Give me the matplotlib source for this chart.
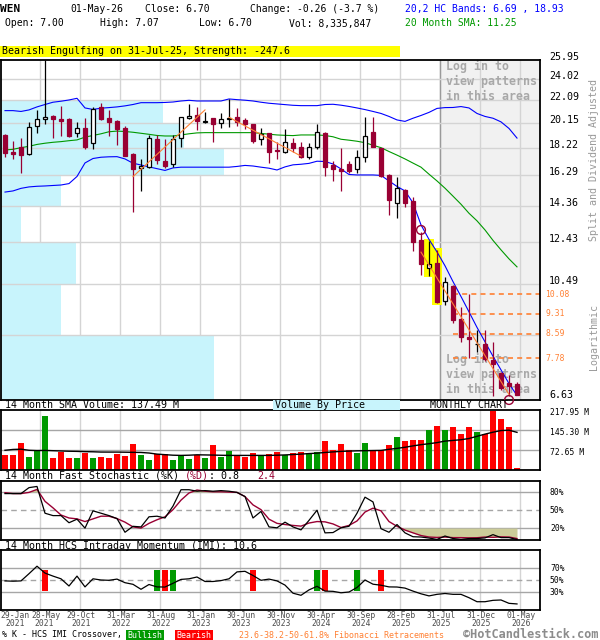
import numpy as np
import matplotlib
matplotlib.use("Agg")
import matplotlib.pyplot as plt
import matplotlib.transforms as mtransforms
from matplotlib.patches import Rectangle

# ------------------------------------------------------------------ data
# monthly candles, Jan-2021 (index 0) .. May-2026 (index 64)
opens = [19.17, 17.92, 18.24, 17.75, 19.90, 20.43, 20.70, 20.45, 20.45, 19.30,
         19.70, 18.54, 21.45, 20.51, 20.29, 19.70, 17.75, 16.75, 16.86, 18.87,
         17.26, 17.05, 18.92, 20.51, 20.78, 20.18, 20.51, 20.15, 20.43, 20.59,
         20.37, 20.04, 18.85, 19.30, 18.04, 17.88, 18.54, 18.24, 17.56, 18.29,
         19.35, 16.98, 16.73, 17.05, 16.69, 17.56, 19.43, 18.16, 16.31, 14.58,
         15.35, 14.70, 12.54, 11.19, 11.45, 9.81, 10.42, 9.12, 8.49, 8.23,
         8.24, 7.73, 7.34, 7.05, 7.00]
highs = [19.25, 18.71, 18.92, 20.18, 21.21, 25.90, 20.78, 21.56, 20.50, 20.21,
         20.51, 21.50, 21.84, 21.21, 20.35, 19.88, 17.85, 17.38, 19.17, 19.17,
         18.87, 19.17, 20.62, 21.73, 21.50, 21.01, 20.55, 20.98, 22.14, 21.36,
         20.51, 20.06, 19.70, 19.32, 18.66, 19.62, 18.92, 18.66, 18.58, 20.01,
         19.40, 17.28, 18.16, 17.28, 18.04, 20.59, 20.59, 18.20, 16.35, 16.20,
         15.38, 14.90, 12.97, 12.50, 12.05, 10.80, 10.44, 9.57, 10.08, 8.72,
         8.70, 8.29, 7.36, 7.27, 7.07]
lows = [17.56, 17.40, 16.46, 17.68, 19.35, 20.04, 18.92, 19.09, 19.05, 19.00,
        18.09, 18.09, 20.40, 19.09, 18.41, 17.60, 14.06, 15.31, 16.80, 17.05,
        16.75, 16.82, 18.24, 20.43, 19.56, 20.10, 18.66, 19.70, 19.83, 19.88,
        19.62, 18.54, 18.41, 17.14, 17.40, 17.85, 17.92, 17.45, 17.40, 18.09,
        16.24, 15.94, 15.31, 16.42, 16.42, 17.21, 18.24, 16.20, 13.88, 13.69,
        14.35, 12.00, 10.89, 10.85, 9.72, 9.65, 8.97, 8.29, 7.79, 7.96,
        7.68, 6.68, 6.85, 6.67, 6.70]
closes = [17.80, 17.75, 17.68, 19.78, 20.43, 20.59, 20.43, 20.29, 19.09, 19.70,
          18.24, 21.27, 20.45, 20.21, 19.64, 17.63, 16.71, 16.93, 18.92, 17.33,
          16.91, 18.87, 20.59, 20.70, 20.31, 20.29, 20.04, 20.43, 20.53, 20.21,
          20.04, 18.69, 19.25, 17.92, 17.97, 18.66, 18.21, 17.56, 18.24, 19.40,
          16.86, 16.69, 16.59, 16.59, 17.52, 19.09, 18.29, 16.24, 14.74, 15.49,
          14.58, 12.46, 11.37, 11.38, 9.77, 10.58, 9.08, 8.49, 8.40, 8.24,
          7.75, 7.60, 6.89, 6.96, 6.70]
volume_m = [54.5, 54.5, 98, 47, 68, 196, 43.6, 66.5, 43.6, 43.6,
            61.7, 43.6, 46, 43.6, 58, 51, 94.4, 54.5, 36.3, 57,
            57, 36.3, 52, 40, 53.3, 43.6, 90.8, 47, 69, 55.7,
            47, 61.7, 53.3, 58, 65.4, 53.3, 61.7, 65.4, 60.5, 66.6,
            105.4, 72.7, 94.4, 72.7, 61.7, 98, 72.7, 72.7, 90.8, 120,
            105.4, 109, 109, 145.3, 160, 145.3, 156, 130.8, 156, 138,
            130.8, 214, 185, 156, 8.34]
volume_sma_m = [72, 75, 76, 72, 71, 71.5, 70.5, 69.5, 68.5, 68,
                67, 66.5, 65.5, 65.4, 65.4, 65, 64.5, 64, 62, 58,
                56, 54, 53.3, 54, 55.5, 55, 54.5, 53.8, 53.3, 53.3,
                53.3, 53.3, 53.3, 53.3, 54, 55, 56.5, 58, 60, 61.5,
                64, 66, 68, 69, 70, 70.5, 71, 71.5, 75.5, 79,
                83, 88, 92.5, 96, 100, 105.5, 108, 110.5, 115, 123,
                131, 138, 144, 145.3, 137.49]
hc_upper = [21.15, 21.15, 21.08, 21.21, 21.47, 21.68, 21.88, 21.97, 22.08, 22.23,
            21.38, 21.25, 21.36, 21.41, 21.47, 21.56, 21.68, 21.84, 21.84, 21.84,
            21.86, 21.90, 21.99, 22.05, 21.99, 21.99, 21.99, 21.99, 22.17, 22.11,
            22.06, 21.99, 21.88, 21.79, 21.73, 21.67, 21.61, 21.58, 21.58, 21.58,
            21.68, 21.70, 21.62, 21.51, 21.38, 21.24, 21.08, 20.91, 20.66, 20.37,
            20.25, 20.51, 20.74, 21.00, 21.34, 21.41, 21.42, 21.50, 21.38, 20.91,
            20.66, 20.51, 20.21, 19.68, 18.93]
hc_lower = [15.22, 15.29, 15.45, 15.54, 15.58, 15.60, 15.63, 15.66, 15.75, 16.21,
            17.12, 17.43, 17.52, 17.55, 17.56, 17.40, 17.10, 16.98, 16.85, 16.73,
            16.61, 16.78, 16.83, 16.83, 16.83, 16.83, 16.83, 16.83, 16.83, 16.88,
            16.95, 16.91, 16.83, 16.76, 16.64, 16.85, 16.99, 17.03, 17.09, 17.24,
            17.22, 17.05, 16.71, 16.34, 16.31, 16.31, 16.31, 16.28, 15.92, 15.57,
            15.29, 14.57, 13.33, 12.57, 11.95, 11.30, 10.60, 9.98, 9.38, 8.81,
            8.31, 7.84, 7.42, 7.02, 6.69]
sma20 = [18.04, 18.09, 18.21, 18.31, 18.45, 18.54, 18.61, 18.66, 18.73, 18.79,
         19.00, 19.13, 19.26, 19.42, 19.47, 19.44, 19.38, 19.30, 19.22, 19.13,
         19.09, 19.09, 19.17, 19.26, 19.33, 19.35, 19.35, 19.35, 19.35, 19.35,
         19.35, 19.35, 19.29, 19.23, 19.17, 19.14, 19.12, 19.17, 19.17, 19.17,
         19.13, 19.03, 18.84, 18.77, 18.69, 18.58, 18.39, 18.21, 17.93, 17.67,
         17.40, 17.11, 16.83, 16.36, 15.92, 15.46, 14.97, 14.49, 13.97, 13.55,
         13.06, 12.52, 12.05, 11.62, 11.25]
stoch_k = [78, 78, 78, 88, 90, 45, 41, 41, 29, 35,
           20, 49, 45, 41, 36, 13, 23, 22, 39, 40,
           37, 57, 84.5, 84.5, 82, 83, 82, 83, 82, 80,
           73, 37, 48, 22, 20.5, 30, 22, 17, 33, 50,
           12, 12.5, 20.5, 23, 45, 72, 64, 19, 13, 26,
           12, 5.5, 5, 3.3, 1, 6.7, 2.5, 1, 2.5, 2.5,
           3.5, 9, 4, 4, 0.8]
stoch_d = [79.5, 78, 78, 80, 85, 65, 54, 42, 37, 35.5,
           31, 35.5, 40, 40, 36, 30, 22, 20, 28, 34,
           39, 51, 67, 79, 84, 82, 81, 81, 80.5, 80,
           73, 59, 51, 35, 28, 26, 24.5, 23.3, 28.5, 31,
           30.5, 27, 21, 24.5, 32, 47, 53.5, 49, 31, 23,
           16.7, 12, 7.5, 5, 4.3, 5, 4, 4, 3.6, 3.8,
           5, 4.5, 5.3, 5, 2.4]
imi = [49, 48.5, 49, 61, 73.5, 62, 57, 52.5, 40.5, 57,
       39, 52.5, 50.5, 50, 52, 46, 43.3, 35, 43, 39,
       38.8, 45, 51.5, 52.5, 55.5, 48, 48, 49.5, 52.5, 64,
       65, 58, 50, 52, 49, 42, 28.5, 25, 34, 40,
       32, 31.6, 29.2, 30.5, 38, 50.5, 43.5, 41.8, 39, 38.8,
       37, 32, 27.5, 24, 26.6, 28, 26.6, 26.6, 21, 14.3,
       14.3, 16.6, 17.2, 11.6, 10.6]
imi_bull_idx = [19, 21, 39, 44]
imi_bear_idx = [5, 20, 31, 40, 47]
pattern_idx = [53, 54]
marker_idx = [52, 63]
marker_price = [13.06, 6.57]
trend_idx0 = [16, 28, 52]
trend_price0 = [16.20, 20.59, 11.94]
trend_idx1 = [25, 37, 63]
trend_price1 = [21.21, 17.60, 6.72]
fib_levels = [10.08, 9.31, 8.59, 7.78]
fib_start_idx = 56
login_idx = 54
price_ticks = [25.95, 24.02, 22.09, 20.15, 18.22, 16.29, 14.36, 12.43, 10.49, 8.56, 6.63]
price_tick_labels = ['25.95', '24.02', '22.09', '20.15', '18.22', '16.29', '14.36',
                     '12.43', '10.49', '', '6.63']
vbp_edges = [6.0, 8.56, 10.49, 12.43, 14.36, 16.29, 18.22, 20.15, 22.09]
vbp_rel_volume = [95.4, 26.9, 33.6, 9.0, 26.9, 100, 82.1, 72.6]
vol_ticks = [72.65, 145.30, 217.95]
vol_tick_labels = ['72.65 M', '145.30 M', '217.95 M']
stoch_ticks = [80, 50, 20]
imi_ticks = [70, 50, 30]
date_tick_idx = [4, 9, 14, 19, 24, 29, 34, 39, 44, 49, 54, 59, 64]
date_tick_day = ['28-May', '29-Oct', '31-Mar', '31-Aug', '31-Jan', '30-Jun', '30-Nov',
                 '30-Apr', '30-Sep', '28-Feb', '31-Jul', '31-Dec', '01-May']
date_tick_year = ['2021', '2021', '2022', '2022', '2023', '2023', '2023',
                  '2024', '2024', '2025', '2025', '2025', '2026']

# ------------------------------------------------------------------ style
MONO = 'DejaVu Sans Mono'
plt.rcParams['font.family'] = [MONO, 'DejaVu Sans']
MAROON = '#990033'
CYAN = '#c8f4fc'
ORANGE = '#ff8033'
GRID = '#d4d4d4'
HGRID = '#a6a6a6'
GREEN = '#009900'
RED = '#ff0000'
W, H = 600, 640
XMIN, XMAX = -0.5, 66.875
GRID_SHIFT = 0.375
VBP_MAX_FRAC = 0.414

fig = plt.figure(figsize=(6, 6.4), dpi=100)
fig.patch.set_facecolor('white')


def fx(px):
    return px / W


def fy(py):
    return 1 - py / H


def px_axes(x0, y0, x1, y1):
    return fig.add_axes([fx(x0), fy(y1), (x1 - x0) / W, (y1 - y0) / H])


def ftext(x, y, s, size=7.0, **kw):
    kw.setdefault('va', 'center')
    kw.setdefault('ha', 'left')
    fig.text(fx(x), fy(y), s, size=size, family=MONO, **kw)


def right_label(ax, xpx, yval, s, size=5.8, dy=0.0, **kw):
    tr = mtransforms.blended_transform_factory(fig.transFigure, ax.transData)
    if dy:
        tr = tr + mtransforms.ScaledTranslation(0, -dy / 100, fig.dpi_scale_trans)
    kw.setdefault('va', 'center')
    ax.text(fx(xpx), yval, s, transform=tr, size=size, family=MONO,
            ha='left', clip_on=False, **kw)


grid_x = np.array(date_tick_idx) + GRID_SHIFT
x = np.arange(len(closes))
o = np.array(opens); c = np.array(closes); hi = np.array(highs); lo = np.array(lows)
up = c >= o


def style(ax):
    ax.set_xlim(XMIN, XMAX)
    ax.set_xticks(grid_x)
    ax.set_xticks([], minor=True)
    ax.grid(axis='x', color=GRID, lw=1.0)
    ax.set_axisbelow(True)
    ax.tick_params(which='both', length=0, labelbottom=False, labelleft=False)
    for s in ax.spines.values():
        s.set_linewidth(1.3)
        s.set_color('black')


# ------------------------------------------------------------------ price panel
axp = px_axes(1, 60, 540, 400)
axp.set_yscale('log')
style(axp)
axp.set_ylim(6.57, 25.95)
axp.set_yticks([])
axp.set_yticks([], minor=True)

axp.axvspan(login_idx + GRID_SHIFT, XMAX + 1, color='#f1f1f1', lw=0, zorder=0.1)
axp.axvline(login_idx + GRID_SHIFT, color='#9a9a9a', lw=1.0, zorder=0.6)
for v in price_ticks[1:-1]:
    axp.axhline(v, color=GRID, lw=1.0, zorder=0.9)

vbp_tr = mtransforms.blended_transform_factory(axp.transAxes, axp.transData)
for b0, b1, rv in zip(vbp_edges[:-1], vbp_edges[1:], vbp_rel_volume):
    axp.add_patch(Rectangle((0, b0), rv / 100 * VBP_MAX_FRAC, b1 - b0,
                            transform=vbp_tr, facecolor=CYAN, lw=0, zorder=0.8))

# pattern highlight
pi = np.array(pattern_idx)
axp.bar(pi, hi[pi] * 1.006 - lo[pi] * 0.994, bottom=lo[pi] * 0.994, width=1.25,
        color='#ffff00', lw=0, zorder=1.5)

# fib retracement lines
axp.hlines(fib_levels, fib_start_idx, XMAX + 1, colors=ORANGE, lw=1.2,
           linestyles=(0, (3, 2.5)), zorder=1.6)

# bands & SMA
axp.plot(x, hc_upper, color='#0000ff', lw=0.8, zorder=2.5)
axp.plot(x, hc_lower, color='#0000ff', lw=0.8, zorder=2.5)
axp.plot(x, sma20, color=GREEN, lw=0.8, zorder=2.5)

# candles
body_lo = np.minimum(o, c)
body_hi = np.maximum(o, c)
axp.vlines(x[up], lo[up], hi[up], color='black', lw=0.9, zorder=3)
axp.vlines(x[~up], lo[~up], hi[~up], color=MAROON, lw=0.9, zorder=3)
axp.bar(x[up], body_hi[up] - body_lo[up], bottom=body_lo[up], width=0.56,
        facecolor='white', edgecolor='black', lw=0.9, zorder=4)
axp.bar(x[~up], body_hi[~up] - body_lo[~up], bottom=body_lo[~up], width=0.56,
        facecolor=MAROON, edgecolor=MAROON, lw=0.9, zorder=4)

# trend lines
for a0, p0, a1, p1 in zip(trend_idx0, trend_price0, trend_idx1, trend_price1):
    axp.plot([a0, a1], [p0, p1], color=ORANGE, lw=0.8, zorder=5)

axp.scatter(marker_idx, marker_price, s=40, facecolors='none', edgecolors=MAROON,
            lw=1.0, zorder=6, clip_on=False)

# login notes
for yy, s in zip([66.7, 81.7, 96.7, 359.3, 374.3, 389.3],
                 ['Log in to', 'view patterns', 'in this area'] * 2):
    axp.text(fx(446), fy(yy), s, transform=fig.transFigure, size=8.4, family=MONO,
             weight='bold', color='#a8a8a8', va='center', ha='left', zorder=1.2)

for v, s in zip(price_ticks, price_tick_labels):
    right_label(axp, 549, v, s, size=7.2, va='baseline')
for v in fib_levels:
    right_label(axp, 545.5, v, f'{v:.2f}', size=5.8, color=ORANGE)

ftext(594, 160, 'Split and Dividend Adjusted', size=7.2, color='#999999',
      rotation=90, ha='center')
ftext(594, 337, 'Logarithmic', size=7.2, color='#999999', rotation=90, ha='center')

# ------------------------------------------------------------------ volume
axv = px_axes(1, 410.3, 540, 470)
style(axv)
axv.set_ylim(0, vol_ticks[-1])
axv.set_yticks([])
for v in vol_ticks[:-1]:
    axv.axhline(v, color=HGRID, lw=1.0, zorder=0.9)
axv.bar(x, volume_m, width=0.75, color=np.where(up, GREEN, RED), lw=0, zorder=2)
axv.plot(x, volume_sma_m, color='black', lw=1.0, zorder=3)
for v, s in zip(vol_ticks, vol_tick_labels):
    right_label(axv, 550, v, s, dy=2)

# ------------------------------------------------------------------ stochastic
axs = px_axes(1, 480.5, 540, 540)
style(axs)
axs.set_ylim(0, 100)
axs.set_yticks([])
axs.axhline(80, color=HGRID, lw=1.0, zorder=0.9)
axs.axhline(20, color=HGRID, lw=1.0, zorder=0.9)
axs.axhline(50, color=HGRID, lw=1.0, ls=(0, (4, 3)), zorder=0.9)
sd = np.array(stoch_d)
axs.fill_between(x, 80, sd, where=sd > 80, interpolate=True, color='#cccc99', lw=0, zorder=1)
axs.fill_between(x, 20, sd, where=sd < 20, interpolate=True, color='#cccc99', lw=0, zorder=1)
axs.plot(x, stoch_d, color=MAROON, lw=1.0, zorder=2)
axs.plot(x, stoch_k, color='black', lw=0.9, zorder=3)
for v in stoch_ticks:
    right_label(axs, 550, v, f'{v}%')

# ------------------------------------------------------------------ IMI
axi = px_axes(1, 550.3, 540, 610.3)
style(axi)
axi.set_ylim(0, 100)
axi.set_yticks([])
axi.axhline(70, color=HGRID, lw=1.0, zorder=0.9)
axi.axhline(30, color=HGRID, lw=1.0, zorder=0.9)
axi.axhline(50, color=HGRID, lw=1.0, ls=(0, (4, 3)), zorder=0.9)
axi.bar(imi_bull_idx, 35, bottom=32, width=0.75, color=GREEN, lw=0, zorder=1.5)
axi.bar(imi_bear_idx, 35, bottom=32, width=0.75, color=RED, lw=0, zorder=1.5)
axi.plot(x, imi, color='black', lw=0.9, zorder=3)
for v in imi_ticks:
    right_label(axi, 550, v, f'{v}%')

# date labels
dtr = mtransforms.blended_transform_factory(axi.transData, fig.transFigure)
for k, (gx, d, yv) in enumerate(zip(grid_x, date_tick_day, date_tick_year)):
    shift = 0.8 if k == 0 else 0.15
    axi.text(gx + shift, fy(615.3), d, transform=dtr, size=5.8, family=MONO,
             color='#4d4d4d', ha='center', va='center', clip_on=False)
    axi.text(gx + shift * 0.6, fy(623.3), yv, transform=dtr, size=5.8, family=MONO,
             color='#4d4d4d', ha='center', va='center', clip_on=False)
ftext(0, 615.3, '29-Jan', size=5.8, color='#4d4d4d')
ftext(5, 623.3, '2021', size=5.8, color='#4d4d4d')

# ------------------------------------------------------------------ header texts
ftext(0, 9, 'WEN', size=8, weight='bold')
ftext(70, 9, '01-May-26')
ftext(145, 9, 'Close: 6.70')
ftext(250, 9, 'Change: -0.26 (-3.7 %)')
ftext(405, 9, '20,2 HC Bands: 6.69 , 18.93', color='#0000ff')
ftext(4.6, 23.5, 'Open: 7.00')
ftext(99.5, 23.5, 'High: 7.07')
ftext(199, 23.5, 'Low: 6.70')
ftext(289, 23.5, 'Vol: 8,335,847')
ftext(405, 23.5, '20 Month SMA: 11.25', color=GREEN)

fig.patches.append(Rectangle((fx(0), fy(57.3)), fx(400), 11.6 / H, transform=fig.transFigure,
                             facecolor='#ffff00', lw=0, zorder=0))
ftext(2, 51.5, 'Bearish Engulfing on 31-Jul-25, Strength: -247.6', size=7.2)
ftext(549, 56.5, '', size=7.2)

# panel captions
ftext(5, 405.3, '14 Month SMA Volume: 137.49 M', size=7.2)
fig.patches.append(Rectangle((fx(273), fy(410)), 127 / W, 10 / H, transform=fig.transFigure,
                             facecolor=CYAN, lw=0, zorder=0))
ftext(275, 405.3, 'Volume By Price', size=7.2)
ftext(430, 405.3, 'MONTHLY CHART', size=7.2)
ftext(4.6, 475.8, '14 Month Fast Stochastic (%K)', size=7.2)
ftext(184.6, 475.8, '(%D)', size=7.2, color=MAROON)
ftext(208.6, 475.8, ': 0.8', size=7.2)
ftext(257, 475.8, '2.4', size=7.2, color=MAROON)
ftext(4.6, 545.8, '14 Month HCS Intraday Momentum (IMI): 10.6', size=7.2)

# bottom legend
ftext(2, 635, '% K - HCS IMI Crossover,', size=6.0)
fig.patches.append(Rectangle((fx(125.5), fy(640)), 38.3 / W, 10.5 / H, transform=fig.transFigure,
                             facecolor=GREEN, lw=0, zorder=0))
ftext(144.6, 635, 'Bullish', size=6.0, color='white', ha='center')
fig.patches.append(Rectangle((fx(174.5), fy(640)), 38.5 / W, 10.5 / H, transform=fig.transFigure,
                             facecolor=RED, lw=0, zorder=0))
ftext(193.7, 635, 'Bearish', size=6.0, color='white', ha='center')
ftext(239, 635, '23.6-38.2-50-61.8% Fibonacci Retracements', size=6.0, color=ORANGE)
ftext(463, 634, '\u00a9HotCandlestick.com', size=8.6, weight='bold', color='#8c8c8c')

fig.savefig('out.png', dpi=100)
